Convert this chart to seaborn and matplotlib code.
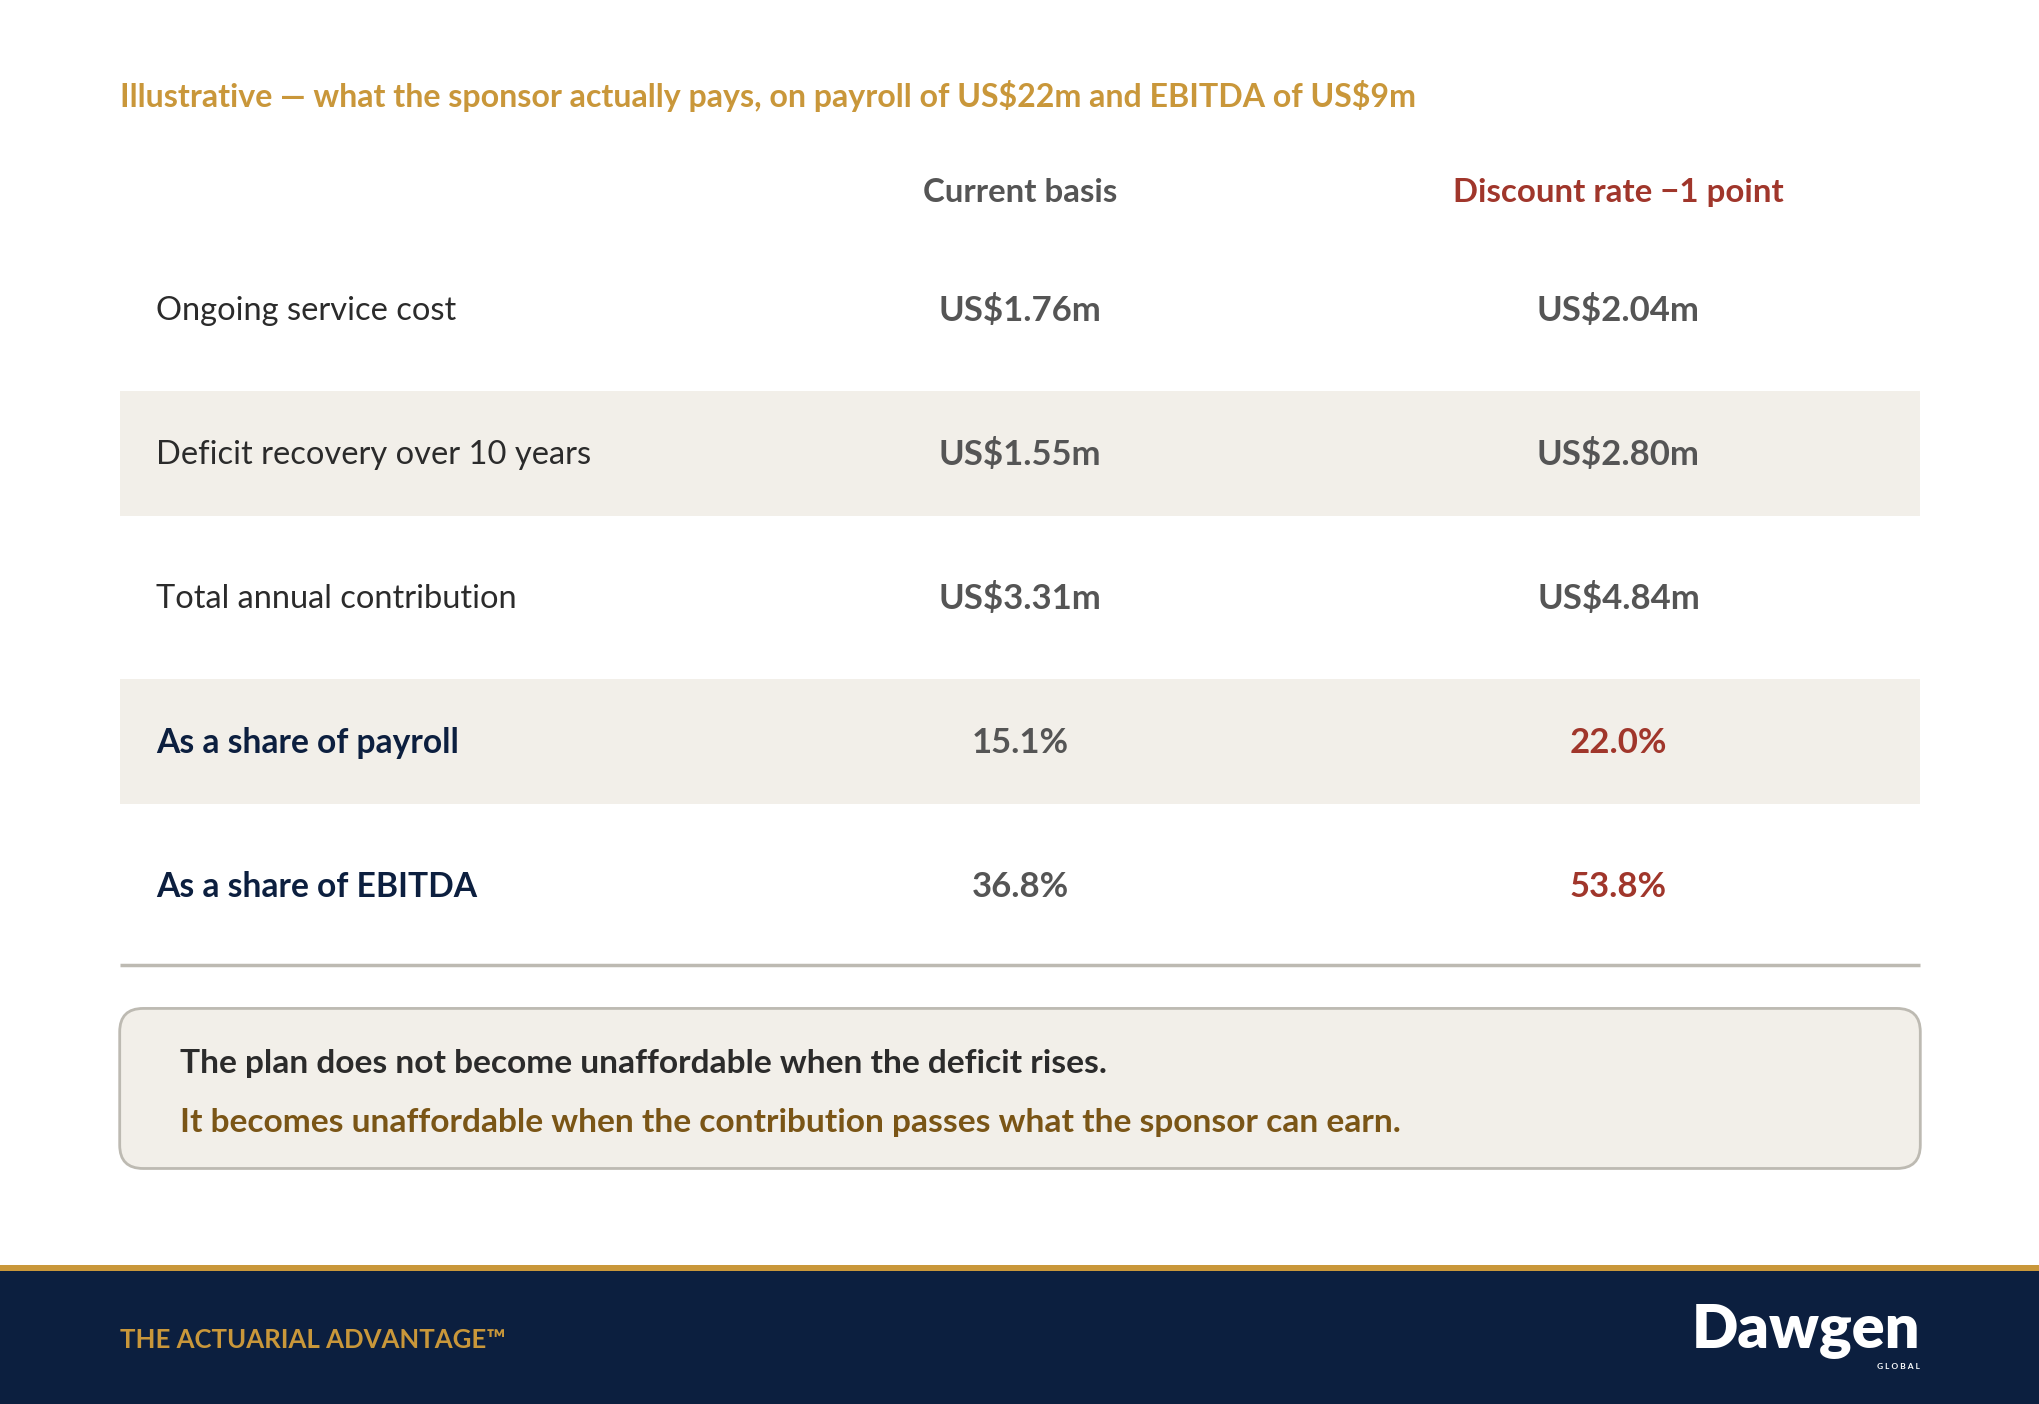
import matplotlib
matplotlib.use("Agg")
import matplotlib.pyplot as plt
import seaborn as sns
from matplotlib.patches import Rectangle, FancyBboxPatch

# data

title = "Illustrative \u2014 what the sponsor actually pays, on payroll of US$22m and EBITDA of US$9m"
columns = ["Current basis", "Discount rate \u22121 point"]
rows = [
    "Ongoing service cost",
    "Deficit recovery over 10 years",
    "Total annual contribution",
    "As a share of payroll",
    "As a share of EBITDA",
]
current = ["US$1.76m", "US$1.55m", "US$3.31m", "15.1%", "36.8%"]
stressed = ["US$2.04m", "US$2.80m", "US$4.84m", "22.0%", "53.8%"]
bold_rows = [False, False, False, True, True]
shaded_rows = [False, True, False, True, False]
note_1 = "The plan does not become unaffordable when the deficit rises."
note_2 = "It becomes unaffordable when the contribution passes what the sponsor can earn."
footer = "THE ACTUARIAL ADVANTAGE\u2122"

# colours

GOLD = "#C9973A"
NAVY = "#0C1F3F"
RED = "#A0362B"
GREY = "#555555"
DARK = "#2B2B2B"
BAND = "#F2EFE9"
RULE = "#BDBAB2"
BROWN = "#7A5516"

sns.set_theme(style="white")
plt.rcParams["font.family"] = ["Lato", "DejaVu Sans"]
plt.rcParams["text.parse_math"] = False

W, H = 1568, 1079
fig = plt.figure(figsize=(20.4, 14.04), dpi=100)
ax = fig.add_axes([0, 0, 1, 1])
ax.set_xlim(0, W)
ax.set_ylim(H, 0)
ax.axis("off")

left, right = 92, 1476
col_x = [784, 1244]
row_y0 = 239
row_step = 110.6
band_h = 96

ax.text(left, 74, title, color=GOLD, fontsize=23.1, fontweight="bold",
        va="center", ha="left")

ax.text(col_x[0], 148, columns[0], color=GREY, fontsize=23.8,
        fontweight="bold", ha="center", va="center")
ax.text(col_x[1], 148, columns[1], color=RED, fontsize=23.8,
        fontweight="bold", ha="center", va="center")

for i, label in enumerate(rows):
    y = row_y0 + i * row_step
    if shaded_rows[i]:
        ax.add_patch(Rectangle((left, y - 1 - band_h / 2), right - left, band_h,
                               facecolor=BAND, edgecolor="none", zorder=0))
    if bold_rows[i]:
        ax.text(120, y, label, color=NAVY, fontsize=24.2, fontweight="bold",
                ha="left", va="center")
        ax.text(col_x[0], y, current[i], color=GREY, fontsize=25,
                fontweight="bold", ha="center", va="center")
        ax.text(col_x[1], y, stressed[i], color=RED, fontsize=25,
                fontweight="bold", ha="center", va="center")
    else:
        ax.text(120, y, label, color=DARK, fontsize=23.5,
                ha="left", va="center")
        ax.text(col_x[0], y, current[i], color=GREY, fontsize=25,
                fontweight="bold", ha="center", va="center")
        ax.text(col_x[1], y, stressed[i], color=GREY, fontsize=25,
                fontweight="bold", ha="center", va="center")

ax.plot([left, right], [742, 742], color=RULE, lw=2.5, solid_capstyle="butt")

# note box
box = FancyBboxPatch((left, 775), right - left, 123,
                     boxstyle="round,pad=0,rounding_size=18",
                     facecolor=BAND, edgecolor=RULE, lw=2)
ax.add_patch(box)
ax.text(138, 817, note_1, color=DARK, fontsize=24.1, fontweight="bold",
        ha="left", va="center")
ax.text(138, 863, note_2, color=BROWN, fontsize=24.1, fontweight="bold",
        ha="left", va="center")

# footer
ax.add_patch(Rectangle((0, 972), W, 6, facecolor=GOLD, edgecolor="none"))
ax.add_patch(Rectangle((0, 977), W, H - 977, facecolor=NAVY, edgecolor="none"))
ax.text(left, 1030, footer, color=GOLD, fontsize=18.5, fontweight="bold",
        ha="left", va="center")
ax.text(right, 1022, "Dawgen", color="white", fontsize=44, fontweight="heavy",
        ha="right", va="center")
ax.text(right, 1050, "G L O B A L", color="white", fontsize=6,
        fontweight="bold", ha="right", va="center")

fig.savefig("out.png", dpi=100, facecolor="white")
